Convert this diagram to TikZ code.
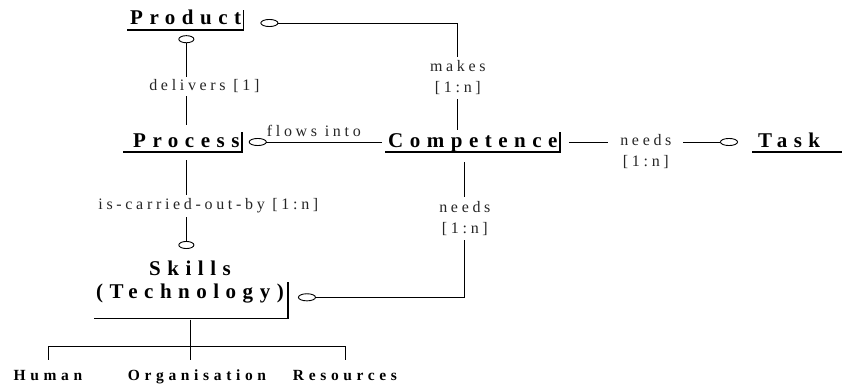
\documentclass[tikz,border=0pt]{standalone}
\usepackage{fontspec}
\setmainfont{Liberation Serif}
\newfontfamily\entfont[LetterSpace=31]{Liberation Serif}
\newfontfamily\partfont[LetterSpace=30]{Liberation Serif}
\newfontfamily\relfont[LetterSpace=23]{Liberation Serif}
\usetikzlibrary{positioning,arrows.meta,calc}

\begin{document}
\begin{tikzpicture}[x=1pt, y=-1pt,
    ename/.style={inner sep=0pt, font=\entfont\fontsize{21}{23}\selectfont\bfseries},
    entity/.style={ename, text height=14pt, text depth=4pt},
    part/.style={inner sep=0pt, text height=10pt, text depth=3pt, font=\partfont\fontsize{15.5}{17}\selectfont\bfseries},
    rel/.style={fill=white, align=center, inner sep=4pt, text=black!85, font=\relfont\fontsize{16}{21}\selectfont},
    link/.style={line width=0.9pt},
    opt/.style={-{Circle[open, length=18pt, width=8pt]}},
    optv/.style={-{Circle[open, length=8pt, width=16pt]}},
    bar/.style={line width=1.7pt}]
    \useasboundingbox (0,0) rectangle (842,385);

    % entities
    \node[entity, anchor=base west] (product) at (130,25) {Product};
    \node[entity, anchor=base west] (process) at (133,147) {Process};
    \node[entity, anchor=base west] (competence) at (388,147) {Competence};
    \node[entity, anchor=base west] (task) at (758,147) {Task};
    \node[ename, anchor=north, align=center] (skills) at (190,261) {Skills\\(Technology)};

    % parts of the skills
    \node[part, anchor=base] (human) at (48,380) {Human};
    \node[part, anchor=base] (organisation) at (197,380) {Organisation};
    \node[part, anchor=base] (resources) at (345,380) {Resources};

    % underline and right bar of each entity
    \foreach \n/\d in {product/3, process/10, competence/3}
        \draw[bar] ($(\n.south west)+(-\d,1)$) -- ($(\n.south east)+(2,1)$) -- ($(\n.north east)+(2,-1)$);
    \draw[bar] ($(task.south west)+(-6,1)$) -- ($(task.south east)+(24,1)$);
    \draw[bar] ($(skills.south west)+(-2,15)$) -- ($(skills.south east)+(4,15)$) -- ($(skills.east)+(4,0)$);

    % relationships
    \draw[link, optv, shorten <=8pt, shorten >=6pt] (process.north) -- (process.north |- product.south)
        node[rel, pos=0.45, xshift=18pt, inner ysep=3pt] {delivers [1]};
    \draw[link, optv, shorten <=9pt, shorten >=12pt] (process.south) -- (process.south |- skills.north)
        node[rel, midway, xshift=22pt] {is-carried-out-by [1:n]};
    \draw[link, opt, shorten <=6pt, shorten >=9pt] (competence.west) -- (process.east)
        node[rel, midway, above, fill=none, inner sep=5pt] {flows into};
    \draw[link, opt, shorten <=3pt, shorten >=19pt] ([xshift=-15pt]competence.north) |- ([yshift=-3pt]product.east)
        node[rel, pos=0.25] {makes\\{[1:n]}};
    \draw[link, opt, shorten <=11pt, shorten >=14pt] ([xshift=-8pt]competence.south) |- ([yshift=-15pt]skills.east)
        node[rel, pos=0.23] {needs\\{[1:n]}};
    \draw[link, opt, shorten <=11pt, shorten >=20pt] (competence.east) -- (task.west)
        node[rel, midway, xshift=-12pt, yshift=-10pt, inner xsep=12pt] {needs\\{[1:n]}};

    % skills split into three parts
    \coordinate (fork) at ($(skills.south)+(0,43)$);
    \draw[link] ($(skills.south)+(0,16)$) -- (fork);
    \draw[link, shorten >=10pt] (fork) -| (human.north);
    \draw[link, shorten >=10pt] (fork) -- (fork |- organisation.north);
    \draw[link, shorten >=10pt] (fork) -| (resources.north);
\end{tikzpicture}
\end{document}
